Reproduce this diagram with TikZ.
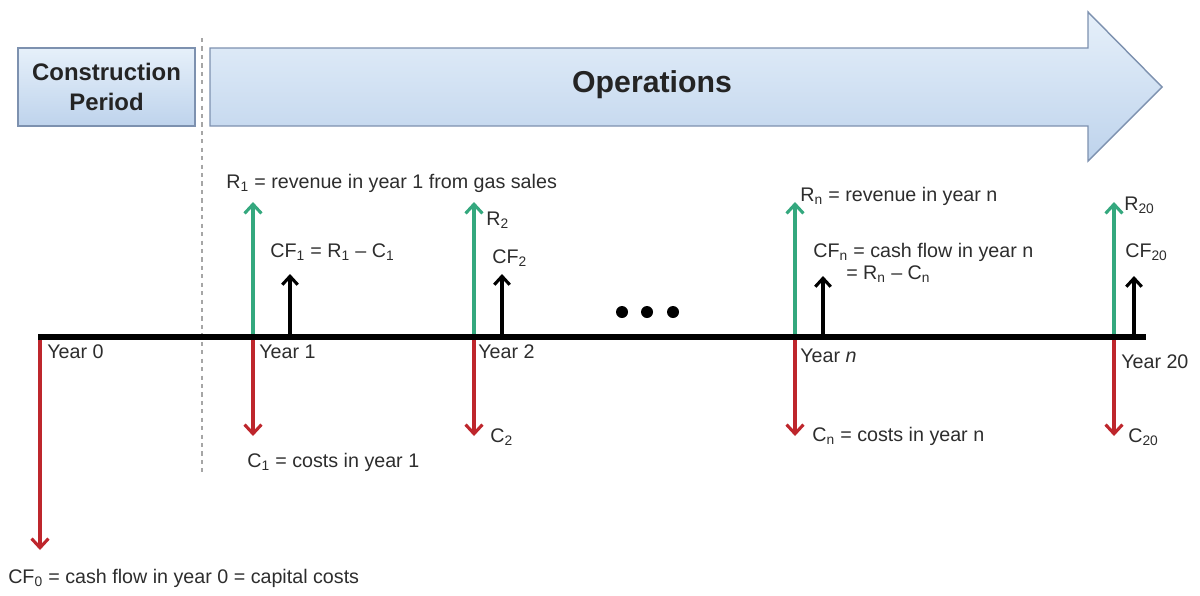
\documentclass[tikz,border=0pt]{standalone}
\usepackage{fontspec}
\setmainfont{Liberation Sans}
\usetikzlibrary{arrows.meta, positioning, calc}
\definecolor{revgreen}{RGB}{52,168,126}
\definecolor{costred}{RGB}{190,38,44}
\definecolor{labelgray}{RGB}{45,45,45}
\definecolor{phasetop}{RGB}{230,240,250}
\definecolor{phasebot}{RGB}{190,211,236}
\definecolor{phaseline}{RGB}{125,145,175}
\tikzstyle{phase}    = [draw=phaseline, line width=1pt, top color=phasetop, bottom color=phasebot]
\tikzstyle{lbl}      = [anchor=west, inner sep=0pt, text=labelgray, font=\fontsize{14}{16.5}\selectfont]
\tikzstyle{yearlbl}  = [lbl]
\tikzstyle{revarrow} = [line width=2.2pt, draw=revgreen, -{Straight Barb[length=6.5pt,width=12pt]}]
\tikzstyle{costarrow}= [line width=2.2pt, draw=costred, -{Straight Barb[length=6.5pt,width=12pt]}]
\tikzstyle{cfarrow}  = [line width=2.2pt, draw=black, -{Straight Barb[length=6pt,width=11pt]}]

\begin{document}
\begin{tikzpicture}[x=0.025cm, y=-0.025cm]
  \useasboundingbox (0,0) rectangle (1200,595);

  % --- Phases ---
  \node (constr) [phase, minimum width=4.425cm, minimum height=1.95cm, align=center,
                  font=\bfseries\fontsize{17}{21}\selectfont, text=labelgray!80!black]
                  at (106.5,87) {Construction\\Period};
  \draw[phase] (210,48) -- (1088,48) -- (1088,12) -- (1162,87) -- (1088,161)
               -- (1088,126) -- (210,126) -- cycle;
  \node (ops) [font=\bfseries\fontsize{21.5}{24}\selectfont, text=labelgray!80!black]
              at (652,85) {Operations};
  \draw[gray!70, line width=1.4pt, dashed] (202,38) -- (202,472);

  % --- Axis points ---
  \coordinate (t0)   at (38,337);
  \coordinate (tend) at (1146,337);
  \coordinate (y0)   at (40,337);
  \coordinate (y1)   at (253,337);
  \coordinate (y2)   at (474,337);
  \coordinate (yn)   at (795,337);
  \coordinate (y20)  at (1114,337);
  \coordinate (cf1b) at (290,337);
  \coordinate (cf2b) at (502,337);
  \coordinate (cfnb) at (823,337);
  \coordinate (cf20b) at (1134,337);

  % --- Arrow tips ---
  \coordinate (c0tip)  at (40,550);
  \coordinate (r1tip)  at (253,202);
  \coordinate (r2tip)  at (474,202);
  \coordinate (rntip)  at (795,202);
  \coordinate (r20tip) at (1114,202);
  \coordinate (cf1tip) at (290,274);
  \coordinate (cf2tip) at (502,274);
  \coordinate (cfntip) at (823,276);
  \coordinate (cf20tip) at (1134,276);
  \coordinate (c1tip)  at (253,436);
  \coordinate (c2tip)  at (474,436);
  \coordinate (cntip)  at (795,436);
  \coordinate (c20tip) at (1114,436);

  % Arrows
  \draw[costarrow] (y0) -- (c0tip);
  \draw[revarrow] (y1) -- (r1tip);
  \draw[revarrow] (y2) -- (r2tip);
  \draw[revarrow] (yn) -- (rntip);
  \draw[revarrow] (y20) -- (r20tip);
  \draw[cfarrow] (cf1b) -- (cf1tip);
  \draw[cfarrow] (cf2b) -- (cf2tip);
  \draw[cfarrow] (cfnb) -- (cfntip);
  \draw[cfarrow] (cf20b) -- (cf20tip);
  \draw[costarrow] (y1) -- (c1tip);
  \draw[costarrow] (y2) -- (c2tip);
  \draw[costarrow] (yn) -- (cntip);
  \draw[costarrow] (y20) -- (c20tip);
  \draw[line width=4.5pt] (t0) -- (tend);

  % --- Dots ---
  \fill (622,312) circle (6);
  \fill (647,312) circle (6);
  \fill (673,312) circle (6);

  % --- Labels ---
  \node (year0)  [yearlbl] at (47,352)   {Year 0};
  \node (year1)  [yearlbl] at (259,352)  {Year 1};
  \node (year2)  [yearlbl] at (478,352)  {Year 2};
  \node (yearn)  [yearlbl] at (800,356)  {Year \textit{n}};
  \node (year20) [yearlbl] at (1121,362) {Year 20};

  \node (cf0) [lbl] at (8,578) {CF\textsubscript{0} = cash flow in year 0 = capital costs};
  \node (r1)  [lbl] at (226,183) {R\textsubscript{1} = revenue in year 1 from gas sales};
  \node (cf1) [lbl] at (270,252) {CF\textsubscript{1} = R\textsubscript{1} -- C\textsubscript{1}};
  \node (c1)  [lbl] at (247,462) {C\textsubscript{1} = costs in year 1};
  \node (r2)  [lbl] at (486,220) {R\textsubscript{2}};
  \node (cf2) [lbl] at (492,258) {CF\textsubscript{2}};
  \node (c2)  [lbl] at (490,437) {C\textsubscript{2}};
  \node (rn)  [lbl] at (800,196) {R\textsubscript{n} = revenue in year n};
  \node (cfn) [lbl] at (813,252) {CF\textsubscript{n} = cash flow in year n};
  \node (cfn2) [lbl] at (846,274) {= R\textsubscript{n} -- C\textsubscript{n}};
  \node (cn)  [lbl] at (812,436) {C\textsubscript{n} = costs in year n};
  \node (r20) [lbl] at (1124,205) {R\textsubscript{20}};
  \node (cf20) [lbl] at (1125,252) {CF\textsubscript{20}};
  \node (c20) [lbl] at (1128,437) {C\textsubscript{20}};

\end{tikzpicture}
\end{document}
